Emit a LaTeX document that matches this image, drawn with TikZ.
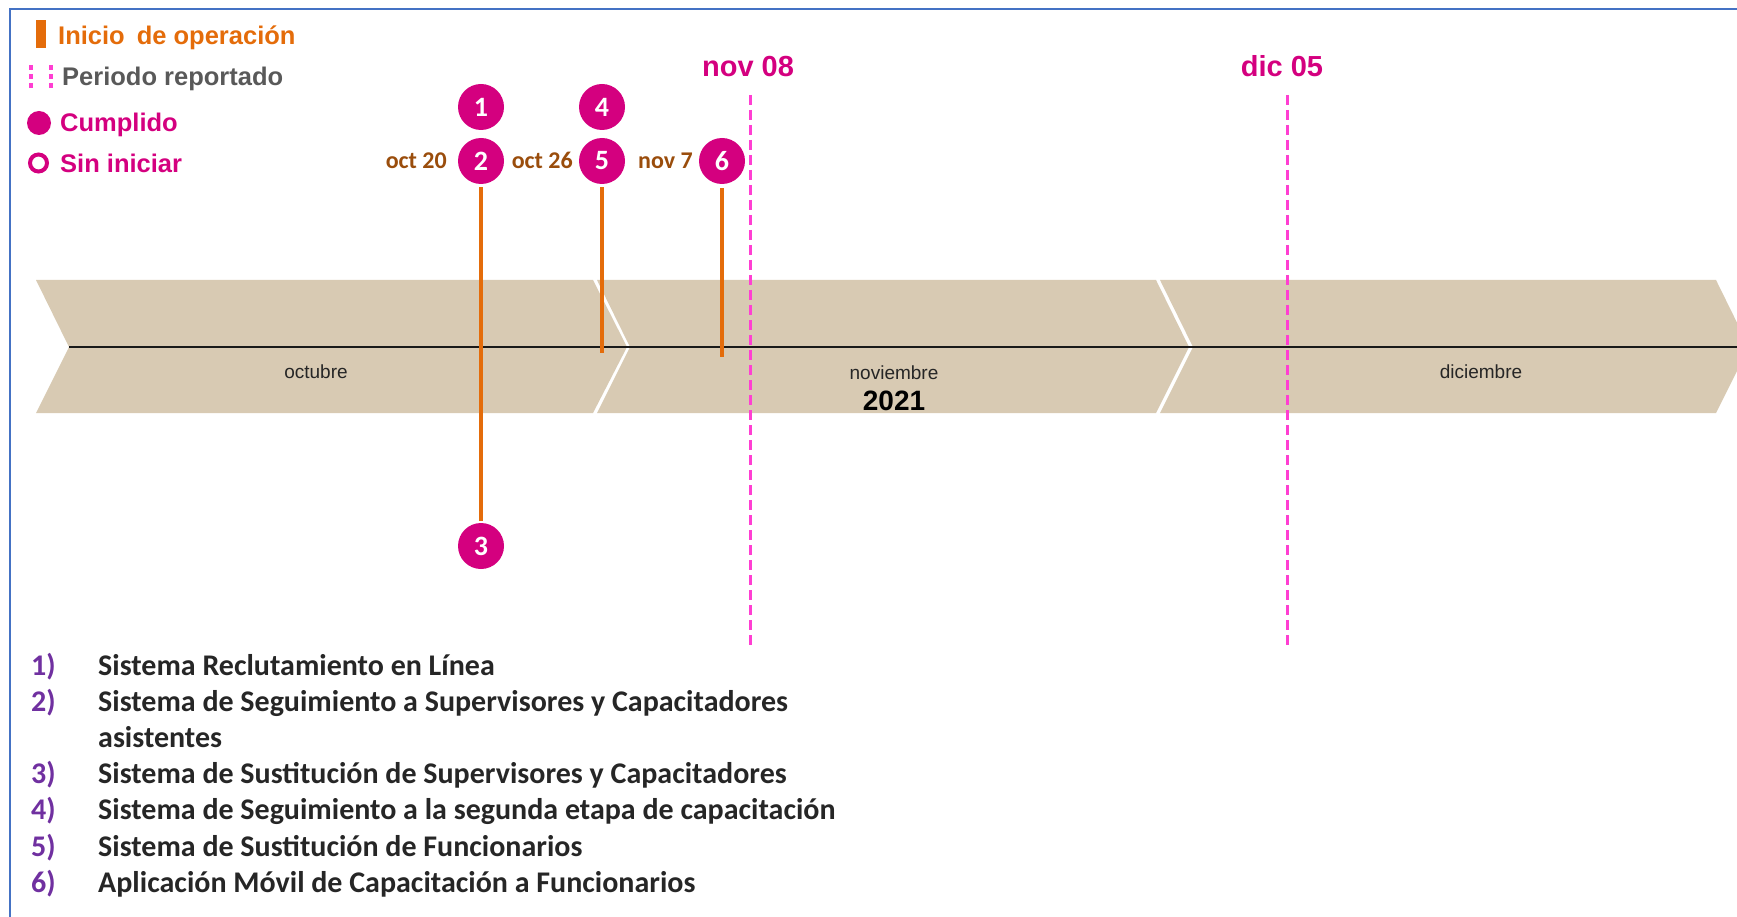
\documentclass[tikz,border=0pt]{standalone}
\usepackage{fontspec}
\setmainfont{Liberation Sans}
\newfontfamily\calfont{Carlito}
\definecolor{cmag}{HTML}{D4007F}
\definecolor{cpink}{HTML}{FF3FD2}
\definecolor{corange}{HTML}{E46C0A}
\definecolor{cbrown}{HTML}{9A4D0C}
\definecolor{cgray}{HTML}{595959}
\definecolor{ctan}{HTML}{D8CAB3}
\definecolor{ctext}{HTML}{262626}
\definecolor{cpurple}{HTML}{7030A0}
\definecolor{cframe}{HTML}{4472C4}
\begin{document}
\begin{tikzpicture}[x=1pt,y=-1pt,
  txt/.style={inner sep=0pt, anchor=base west},
  legtxt/.style={txt, font=\bfseries\fontsize{25.5}{30}\selectfont},
  ms/.style={circle, fill=cmag, minimum size=46pt, inner sep=0pt, text=white,
             font=\calfont\bfseries\fontsize{28}{28}\selectfont},
  datelab/.style={inner sep=0pt, anchor=base east, text=cbrown,
             font=\calfont\bfseries\fontsize{24}{24}\selectfont},
  orline/.style={draw=corange, line width=4pt},
  pinkdash/.style={draw=cpink, line width=3pt, dash pattern=on 10pt off 5pt},
  pinkdot/.style={draw=cpink, line width=4pt, dash pattern=on 5pt off 4pt},
  peri/.style={inner sep=0pt, anchor=base, text=cmag, font=\bfseries\fontsize{29}{29}\selectfont},
  month/.style={inner sep=0pt, anchor=base, text=ctext, font=\fontsize{19}{19}\selectfont},
  chev/.style={fill=ctan},
  listnum/.style={txt, text=cpurple, font=\calfont\bfseries\fontsize{30}{30}\selectfont},
  listtxt/.style={txt, text=ctext, font=\calfont\bfseries\fontsize{30}{30}\selectfont}
]
\useasboundingbox (0,0) rectangle (1737,917);
\clip (0,0) rectangle (1737,917);

% frame
\draw[cframe, line width=2pt] (1740,9) -- (10,9) -- (10,920);

% chevrons
\fill[chev] (36,280) -- (593,280) -- (627,347) -- (593,413) -- (36,413) -- (69,347) -- cycle;
\fill[chev] (597,280) -- (1156,280) -- (1189,347) -- (1156,413) -- (597,413) -- (630,347) -- cycle;
\fill[chev] (1160,280) -- (1716,280) -- (1749,347) -- (1716,413) -- (1160,413) -- (1193,347) -- cycle;
\coordinate (axL) at (69,347);
\coordinate (axR) at (1740,347);
\draw[black!90, line width=2.5pt] (axL) -- (axR);

% month labels
\node[month] (oct) at (316,378) {octubre};
\node[month] (nov) at (894,379) {noviembre};
\node[month] (dic) at (1481,378) {diciembre};
\node[inner sep=0pt, anchor=base, text=black, font=\bfseries\fontsize{28}{28}\selectfont] (yr) at (894,410) {2021};

% reported period lines
\coordinate (n8t) at (750,95);
\coordinate (n8b) at (750,646);
\coordinate (d5t) at (1287,95);
\coordinate (d5b) at (1287,646);
\draw[pinkdash] (n8t) -- (n8b);
\draw[pinkdash] (d5t) -- (d5b);
\node[peri] (n8lab) at (748,77) {nov 08};
\node[peri] (d5lab) at (1282,77) {dic 05};

% milestones
\node[ms] (m1) at (481,107) {1};
\node[ms] (m2) at (481,161) {2};
\node[ms] (m3) at (481,546) {3};
\node[ms] (m4) at (602,107) {4};
\node[ms] (m5) at (602,161) {5};
\node[ms] (m6) at (722,161) {6};
\node[datelab] (dt2) at (447,169) {oct 20};
\node[datelab] (dt5) at (573,169) {oct 26};
\node[datelab] (dt6) at (693,169) {nov 7};
\coordinate (e5) at (602,353);
\coordinate (e6) at (722,357);
\draw[orline, shorten <=3pt, shorten >=2pt] (m2) -- (m3);
\draw[orline, shorten <=3pt] (m5) -- (e5);
\draw[orline, shorten <=4pt] (m6) -- (e6);

% legend
\node[fill=corange, minimum width=10pt, minimum height=28pt, inner sep=0pt] (lgbar) at (41,34) {};
\node[legtxt, text=corange] (lgop) at (58,45) {Inicio\hspace{12pt}de operación};
\draw[pinkdot] (31,65) -- (31,90);
\draw[pinkdot] (51,65) -- (51,90);
\node[legtxt, text=cgray] (lgper) at (62,86) {Periodo reportado};
\node[circle, fill=cmag, minimum size=24pt, inner sep=0pt] (lgfull) at (39,123) {};
\node[legtxt, text=cmag] (lgcum) at (60,132) {Cumplido};
\node[circle, draw=cmag, line width=4pt, minimum size=17pt, inner sep=0pt] (lgring) at (38.5,163) {};
\node[legtxt, text=cmag] (lgsin) at (60,173) {Sin iniciar};

% list
\node[listnum] (n1) at (31,675) {1)};
\node[listtxt] (t1) at (98,675) {Sistema Reclutamiento en Línea};
\node[listnum] (n2) at (31,711.2) {2)};
\node[listtxt] (t2) at (98,711.2) {Sistema de Seguimiento a Supervisores y Capacitadores};
\node[listtxt] (t2b) at (98,747.4) {asistentes};
\node[listnum] (n3) at (31,783.6) {3)};
\node[listtxt] (t3) at (98,783.6) {Sistema de Sustitución de Supervisores y Capacitadores};
\node[listnum] (n4) at (31,819.8) {4)};
\node[listtxt] (t4) at (98,819.8) {Sistema de Seguimiento a la segunda etapa de capacitación};
\node[listnum] (n5) at (31,856) {5)};
\node[listtxt] (t5) at (98,856) {Sistema de Sustitución de Funcionarios};
\node[listnum] (n6) at (31,892.2) {6)};
\node[listtxt] (t6) at (98,892.2) {Aplicación Móvil de Capacitación a Funcionarios};
\end{tikzpicture}
\end{document}
